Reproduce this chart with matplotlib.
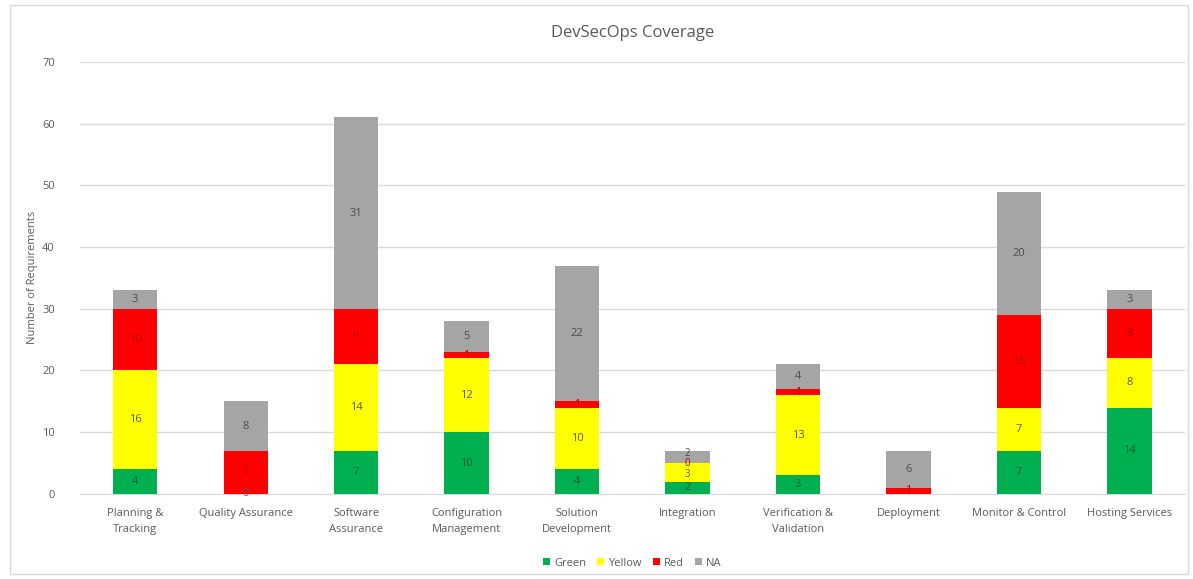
import numpy as np
import matplotlib
matplotlib.use("Agg")
import matplotlib.pyplot as plt
from matplotlib.patches import Rectangle

categories = ["Planning &\nTracking", "Quality Assurance", "Software\nAssurance",
              "Configuration\nManagement", "Solution\nDevelopment", "Integration",
              "Verification &\nValidation", "Deployment", "Monitor & Control", "Hosting Services"]
nan = np.nan
green = [4, nan, 7, 10, 4, 2, 3, nan, 7, 14]
yellow = [16, 0, 14, 12, 10, 3, 13, nan, 7, 8]
red = [10, 7, 9, 1, 1, 0, 1, 1, 15, 8]
na = [3, 8, 31, 5, 22, 2, 4, 6, 20, 3]

series = [("Green", green, "#00b050", "#0b5e34"),
          ("Yellow", yellow, "#ffff00", "#595959"),
          ("Red", red, "#ff0000", "#b00000"),
          ("NA", na, "#a5a5a5", "#4d4d4d")]

plt.rcParams['font.family'] = ['Open Sans', 'DejaVu Sans']
fig = plt.figure(figsize=(11.93, 5.79), dpi=100)
fig.patches.append(Rectangle((0.008, 0.008), 0.988, 0.984, transform=fig.transFigure,
                             fill=False, edgecolor="#d9d9d9", linewidth=1))
ax = fig.add_axes([0.067, 0.147, 0.926, 0.746])

x = np.arange(len(categories))
bottom = np.zeros(len(categories))
for name, vals, col, tcol in series:
    v = np.array(vals, dtype=float)
    h = np.nan_to_num(v)
    ax.bar(x, h, 0.4, bottom=bottom, color=col, label=name, zorder=3)
    for i in range(len(x)):
        if not np.isnan(v[i]):
            yy = bottom[i] + h[i] / 2
            fs = 8
            if name == "NA" and h[i] <= 2:
                yy += 0.6
                fs = 7
            if name == "Yellow" and 0 < h[i] <= 3:
                yy -= 0.4
                fs = 7
            if name == "Red" and h[i] == 0:
                fs = 7
            ax.text(x[i], yy, f"{int(v[i])}", ha="center", va="center",
                    fontsize=fs, color=tcol, zorder=4)
    bottom += h

ax.set_xlim(-0.5, len(categories) - 0.5)
ax.set_ylim(0, 70)
ax.set_yticks(range(0, 71, 10))
ax.grid(axis="y", color="#d9d9d9", linewidth=1, zorder=0)
for s in ["top", "right", "left"]:
    ax.spines[s].set_visible(False)
ax.spines["bottom"].set_color("#d9d9d9")
ax.tick_params(axis="both", length=0, labelsize=8, colors="#595959")
ax.tick_params(axis="y", pad=18)
ax.tick_params(axis="x", pad=10)
ax.set_xticks(x)
ax.set_xticklabels(categories, fontsize=8, color="#595959", linespacing=1.7)
ax.set_ylabel("Number of Requirements", fontsize=8, color="#595959")
ax.yaxis.set_label_coords(-0.038, 0.5)
ax.set_title("DevSecOps Coverage", fontsize=12, color="#595959", pad=18)
ax.legend(loc="upper center", bbox_to_anchor=(0.5, -0.125), ncol=4, frameon=False,
          fontsize=8, handlelength=0.6, handleheight=0.6, columnspacing=1.0,
          handletextpad=0.4, labelcolor="#595959")
fig.savefig("out.png", dpi=100)
